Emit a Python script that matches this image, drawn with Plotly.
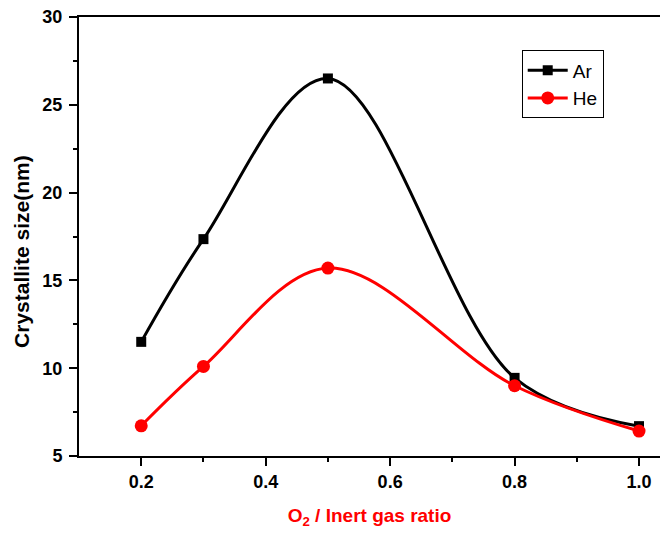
import plotly.graph_objects as go

ratio = [0.2, 0.3, 0.5, 0.8, 1.0]
ar_size = [11.5, 17.35, 26.5, 9.45, 6.7]
he_size = [6.72, 10.1, 15.7, 9.0, 6.42]

x_ticks = [0.2, 0.4, 0.6, 0.8, 1.0]
x_ticklabels = ["0.2", "0.4", "0.6", "0.8", "1.0"]
y_ticks = [5, 10, 15, 20, 25, 30]
y_ticklabels = ["5", "10", "15", "20", "25", "30"]

fig = go.Figure()
fig.add_trace(go.Scatter(
    x=ratio, y=ar_size, name="Ar", mode="lines+markers",
    line=dict(color="black", width=3, shape="spline", smoothing=1.0),
    marker=dict(symbol="square", size=10, color="black"),
))
fig.add_trace(go.Scatter(
    x=ratio, y=he_size, name="He", mode="lines+markers",
    line=dict(color="#ff0000", width=3, shape="spline", smoothing=1.0),
    marker=dict(symbol="circle", size=13, color="#ff0000"),
))

FONT = "Liberation Sans, Arial, sans-serif"
tickfont = dict(family=FONT, size=18, color="black")
fig.update_layout(
    width=660, height=533,
    margin=dict(l=79, r=0, t=17, b=77),
    plot_bgcolor="white", paper_bgcolor="white",
    showlegend=True,
    legend=dict(
        x=0.762, y=0.924, xanchor="left", yanchor="top",
        bordercolor="black", borderwidth=1, bgcolor="white",
        font=dict(family=FONT, size=19, color="black"),
        tracegroupgap=0, itemwidth=40,
    ),
    xaxis=dict(
        range=[0.1, 1.0337], tickvals=x_ticks,
        ticktext=["<b>%s</b>" % t for t in x_ticklabels],
        showline=True, linecolor="black", linewidth=2, mirror=True,
        ticks="outside", ticklen=8, tickwidth=2, tickcolor="black",
        minor=dict(tickvals=[0.3, 0.5, 0.7, 0.9], ticks="outside", ticklen=4, tickwidth=1.5, tickcolor="black"),
        showgrid=False, zeroline=False,
        tickfont=tickfont,
        title=dict(text="<b>O<sub>2</sub> / Inert gas ratio</b>",
                   font=dict(family=FONT, size=19, color="#ff0000"),
                   standoff=18),
    ),
    yaxis=dict(
        range=[5, 30], tickvals=y_ticks,
        ticktext=["<b>%s</b>" % t for t in y_ticklabels],
        showline=True, linecolor="black", linewidth=2, mirror=False,
        ticks="outside", ticklen=8, tickwidth=2, tickcolor="black",
        ticklabelstandoff=3,
        minor=dict(tickvals=[7.5, 12.5, 17.5, 22.5, 27.5], ticks="outside", ticklen=4, tickwidth=1.5, tickcolor="black"),
        showgrid=False, zeroline=False,
        tickfont=tickfont,
    ),
    annotations=[dict(
        text="<b>Crystallite size(nm)</b>", textangle=-90,
        xref="paper", yref="paper", x=-0.098, y=0.465,
        xanchor="center", yanchor="middle", showarrow=False,
        font=dict(family=FONT, size=21, color="black"),
    )],
)

fig.write_html("out.html", config={"displayModeBar": False},
               post_script="document.body.style.margin='0';document.body.style.overflow='hidden';")
